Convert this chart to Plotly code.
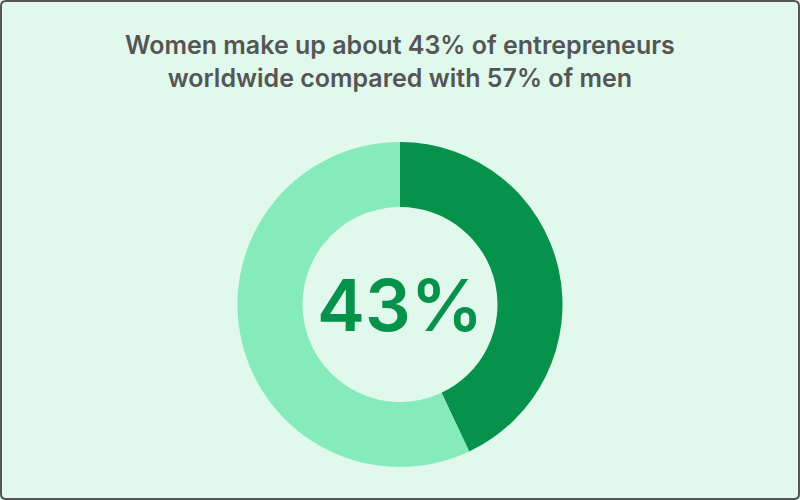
import plotly.graph_objects as go

labels = ["Women", "Men"]
values = [43, 57]
colors = ["#07924c", "#86ebba"]
title_lines = ["Women make up about 43% of entrepreneurs", "worldwide compared with 57% of men"]
center_label = "43%"

W, H = 800, 500
bg = "#e1f8ec"

fig = go.Figure()
fig.add_trace(go.Pie(
    labels=labels, values=values, hole=0.6, sort=False, direction="clockwise",
    rotation=0, marker=dict(colors=colors, line=dict(width=0)),
    textinfo="none", hoverinfo="label+percent", showlegend=False,
    domain=dict(x=[0, 1], y=[33 / H, 358 / H]),
))

fig.add_annotation(text="<br>".join(title_lines), x=0.5, y=1 - 61 / H, xref="paper", yref="paper",
                   showarrow=False, font=dict(family="Inter", size=25, color="#555555", weight=600),
                   align="center", xanchor="center", yanchor="middle")
fig.add_annotation(text=center_label, x=0.5, y=1 - 304 / H, xref="paper", yref="paper",
                   showarrow=False, font=dict(family="Inter", size=72, color="#07924c", weight=600),
                   xanchor="center", yanchor="middle")

# rounded border
r = 5
x0, y0, x1, y1 = 1, 1, W - 1, H - 1
def px(x):
    return x / W
def py(y):
    return 1 - y / H
path = (f"M {px(x0 + r)},{py(y0)} L {px(x1 - r)},{py(y0)} Q {px(x1)},{py(y0)} {px(x1)},{py(y0 + r)} "
        f"L {px(x1)},{py(y1 - r)} Q {px(x1)},{py(y1)} {px(x1 - r)},{py(y1)} "
        f"L {px(x0 + r)},{py(y1)} Q {px(x0)},{py(y1)} {px(x0)},{py(y1 - r)} "
        f"L {px(x0)},{py(y0 + r)} Q {px(x0)},{py(y0)} {px(x0 + r)},{py(y0)} Z")
fig.add_shape(type="path", path=path, xref="paper", yref="paper",
              line=dict(color="#555555", width=2))

fig.update_layout(width=W, height=H, margin=dict(l=0, r=0, t=0, b=0),
                  paper_bgcolor=bg, plot_bgcolor=bg)
fig.write_html("out.html", config={"displayModeBar": False},
               post_script="document.body.style.margin='0';document.body.style.padding='0';")
